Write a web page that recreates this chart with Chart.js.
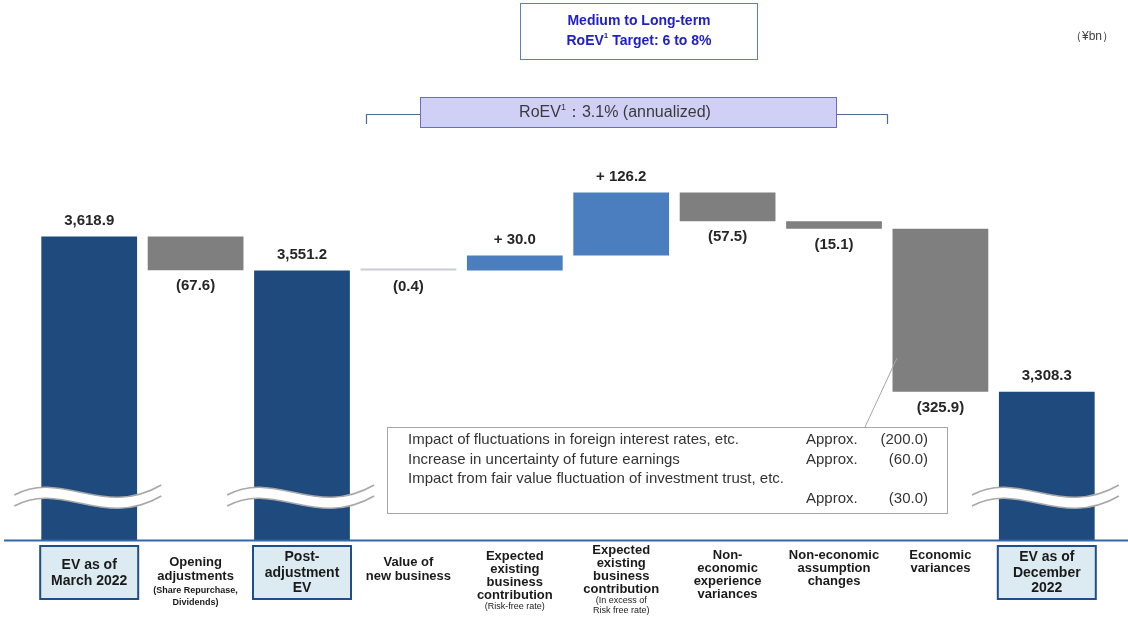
<!DOCTYPE html>
<html>
<head>
<meta charset="utf-8">
<script src="https://cdn.jsdelivr.net/npm/chart.js@4.4.0/dist/chart.umd.min.js"></script>
<style>
  html, body { margin: 0; padding: 0; background: #fff; }
</style>
</head>
<body>
<canvas id="evChart" width="1128" height="619"></canvas>
<script>
// --- data (¥bn) ---
const categories = [
  ['EV as of', 'March 2022'],
  ['Opening', 'adjustments'],
  ['Post-', 'adjustment', 'EV'],
  ['Value of', 'new business'],
  ['Expected', 'existing', 'business', 'contribution'],
  ['Expected', 'existing', 'business', 'contribution'],
  ['Non-', 'economic', 'experience', 'variances'],
  ['Non-economic', 'assumption', 'changes'],
  ['Economic', 'variances'],
  ['EV as of', 'December', '2022']
];
const notes = [[], ['(Share Repurchase,', 'Dividends)'], [], [], ['(Risk-free rate)'],
  ['(In excess of', 'Risk free rate)'], [], [], [], []];
const totals = [3618.9, null, 3551.2, null, null, null, null, null, null, 3308.3];
const changes = [null, -67.6, null, -0.4, 30.0, 126.2, -57.5, -15.1, -325.9, null];
const axisFloor = 3012; // value sitting on the broken baseline
const breakdown = [
  ['Impact of fluctuations in foreign interest rates, etc.', 'Approx.', '(200.0)'],
  ['Increase in uncertainty of future earnings', 'Approx.', '(60.0)'],
  ['Impact from fair value fluctuation of investment trust, etc.', '', ''],
  ['', 'Approx.', '(30.0)']
];

const NAVY = '#1F4A7E';
const UP = '#4A7EBE';
const DOWN = '#7F7F7F';
const TINY = '#C9CED6';
const FONT = '"Liberation Sans", Arial, sans-serif';

// floating bars: totals start at the floor, changes run from the previous level
let level = 0;
const bars = categories.map((_, i) => {
  if (totals[i] !== null) { level = totals[i]; return [axisFloor, totals[i]]; }
  const from = level;
  level += changes[i];
  return [from, level];
});
const colors = categories.map((_, i) => {
  if (totals[i] !== null) return NAVY;
  if (Math.abs(changes[i]) < 1) return TINY;
  return changes[i] > 0 ? UP : DOWN;
});

const fmtLabel = (i) => {
  if (totals[i] !== null) return totals[i].toLocaleString('en-US', { minimumFractionDigits: 1 });
  const v = changes[i];
  return v < 0 ? '(' + Math.abs(v).toFixed(1) + ')' : '+ ' + v.toFixed(1);
};

function textWithSup(ctx, parts, cx, cy, font, supFont) {
  // parts: [text, isSup]
  let w = 0;
  parts.forEach(p => { ctx.font = p[1] ? supFont : font; w += ctx.measureText(p[0]).width; });
  let x = cx - w / 2;
  ctx.textAlign = 'left';
  parts.forEach(p => {
    ctx.font = p[1] ? supFont : font;
    ctx.fillText(p[0], x, p[1] ? cy - 5 : cy);
    x += ctx.measureText(p[0]).width;
  });
}

const decor = {
  id: 'decor',
  afterDatasetsDraw(chart) {
    const ctx = chart.ctx;
    const meta = chart.getDatasetMeta(0);
    const bottom = chart.chartArea.bottom;
    ctx.save();

    // axis breaks on the total bars
    meta.data.forEach((el, i) => {
      if (totals[i] === null) return;
      const L = el.x - el.width / 2;
      const y0 = bottom - 45;
      const gap = 11;
      const pts = [[L - 27, 0], [L + 20, -26], [L + 62, 24], [L + 120, -10]];
      ctx.beginPath();
      ctx.moveTo(pts[0][0], y0 + pts[0][1]);
      ctx.bezierCurveTo(pts[1][0], y0 + pts[1][1], pts[2][0], y0 + pts[2][1], pts[3][0], y0 + pts[3][1]);
      ctx.lineTo(pts[3][0], y0 + pts[3][1] + gap);
      ctx.bezierCurveTo(pts[2][0], y0 + pts[2][1] + gap, pts[1][0], y0 + pts[1][1] + gap, pts[0][0], y0 + pts[0][1] + gap);
      ctx.closePath();
      ctx.fillStyle = '#fff';
      ctx.fill();
      ctx.strokeStyle = '#A8A8A8';
      ctx.lineWidth = 1.5;
      [0, gap].forEach(dy => {
        ctx.beginPath();
        ctx.moveTo(pts[0][0], y0 + pts[0][1] + dy);
        ctx.bezierCurveTo(pts[1][0], y0 + pts[1][1] + dy, pts[2][0], y0 + pts[2][1] + dy, pts[3][0], y0 + pts[3][1] + dy);
        ctx.stroke();
      });
    });

    // baseline
    ctx.beginPath();
    ctx.moveTo(4, bottom + 0.5);
    ctx.lineTo(1128, bottom + 0.5);
    ctx.strokeStyle = '#3566A9';
    ctx.lineWidth = 2;
    ctx.stroke();

    // value labels
    ctx.fillStyle = '#262626';
    ctx.font = 'bold 15px ' + FONT;
    ctx.textAlign = 'center';
    ctx.textBaseline = 'middle';
    meta.data.forEach((el, i) => {
      const top = Math.min(el.y, el.base);
      const low = Math.max(el.y, el.base);
      const below = totals[i] === null && changes[i] < 0;
      ctx.fillText(fmtLabel(i), el.x, below ? low + 16 : top - 16);
    });

    // category labels
    meta.data.forEach((el, i) => {
      const boxed = totals[i] !== null;
      ctx.fillStyle = '#1a1a1a';
      if (boxed) {
        ctx.fillStyle = '#DCEBF1';
        ctx.fillRect(el.x - 49, 546, 98, 53);
        ctx.strokeStyle = '#1F4E8C';
        ctx.lineWidth = 2;
        ctx.strokeRect(el.x - 49, 546, 98, 53);
        const lh = 15.5;
        let y = 573 - (categories[i].length - 1) * lh / 2;
        ctx.fillStyle = '#1a1a1a';
        ctx.font = 'bold 14px ' + FONT;
        categories[i].forEach(t => { ctx.fillText(t, el.x, y); y += lh; });
      } else if (i < 4) {
        let y = 562;
        ctx.font = 'bold 13px ' + FONT;
        categories[i].forEach(t => { ctx.fillText(t, el.x, y); y += 14.5; });
        ctx.font = 'bold 9px ' + FONT;
        notes[i].forEach(t => { ctx.fillText(t, el.x, y); y += 12; });
      } else {
        const m = categories[i].length, n = notes[i].length;
        let y = n > 0 ? Math.min(556, 611 - ((m - 1) * 13 + 12 + (n - 1) * 10)) : 555;
        ctx.font = 'bold 13px ' + FONT;
        categories[i].forEach(t => { ctx.fillText(t, el.x, y); y += 13; });
        y -= 1;
        ctx.font = '9px ' + FONT;
        notes[i].forEach(t => { ctx.fillText(t, el.x, y); y += 10; });
      }
    });

    // target box
    ctx.fillStyle = '#fff';
    ctx.fillRect(520, 3, 237, 56);
    ctx.strokeStyle = '#5B7FC7';
    ctx.lineWidth = 1;
    ctx.strokeRect(520.5, 3.5, 237, 56);
    ctx.fillStyle = '#2020C8';
    ctx.textAlign = 'center';
    ctx.font = 'bold 14px ' + FONT;
    ctx.fillText('Medium to Long-term', 639, 21);
    textWithSup(ctx, [['RoEV', false], ['1', true], [' Target: 6 to 8%', false]], 639, 41,
      'bold 14px ' + FONT, 'bold 8px ' + FONT);

    ctx.fillStyle = '#404040';
    ctx.textAlign = 'center';
    ctx.font = '12px ' + FONT;
    ctx.fillText('（¥bn）', 1092, 37);

    // RoEV bracket + box
    ctx.beginPath();
    ctx.moveTo(366.5, 124); ctx.lineTo(366.5, 114.5); ctx.lineTo(420, 114.5);
    ctx.moveTo(836, 114.5); ctx.lineTo(887.5, 114.5); ctx.lineTo(887.5, 124);
    ctx.strokeStyle = '#4F6A94';
    ctx.lineWidth = 1.2;
    ctx.stroke();
    ctx.fillStyle = '#D0D0F6';
    ctx.fillRect(420, 97, 416, 30);
    ctx.strokeStyle = '#6B6BC4';
    ctx.lineWidth = 1;
    ctx.strokeRect(420.5, 97.5, 416, 30);
    ctx.fillStyle = '#3a3a3a';
    textWithSup(ctx, [['RoEV', false], ['1', true], ['：3.1% (annualized)', false]], 615, 113,
      '16px ' + FONT, '9px ' + FONT);

    // breakdown callout
    ctx.beginPath();
    ctx.moveTo(865, 427); ctx.lineTo(897, 358);
    ctx.strokeStyle = '#A6A6A6';
    ctx.lineWidth = 1;
    ctx.stroke();
    ctx.fillStyle = '#fff';
    ctx.fillRect(387, 427, 560, 86);
    ctx.strokeStyle = '#A6A6A6';
    ctx.strokeRect(387.5, 427.5, 560, 86);
    ctx.fillStyle = '#333';
    ctx.font = '15px ' + FONT;
    breakdown.forEach((row, r) => {
      const y = 440 + r * 19.5;
      ctx.textAlign = 'left';
      ctx.fillText(row[0], 408, y);
      ctx.fillText(row[1], 806, y);
      ctx.textAlign = 'right';
      ctx.fillText(row[2], 928, y);
    });

    ctx.restore();
  }
};

new Chart(document.getElementById('evChart').getContext('2d'), {
  type: 'bar',
  data: {
    labels: categories,
    datasets: [{
      data: bars,
      backgroundColor: colors,
      borderWidth: 0,
      borderSkipped: false,
      minBarLength: 2,
      barPercentage: 0.9,
      categoryPercentage: 1
    }]
  },
  options: {
    responsive: false,
    animation: false,
    layout: { padding: { left: 36, right: 28, top: 0, bottom: 79 } },
    scales: {
      x: { display: false },
      y: { display: false, min: axisFloor, max: axisFloor + 1080 }
    },
    plugins: {
      legend: { display: false },
      tooltip: { enabled: false }
    }
  },
  plugins: [decor]
});
</script>
</body>
</html>
